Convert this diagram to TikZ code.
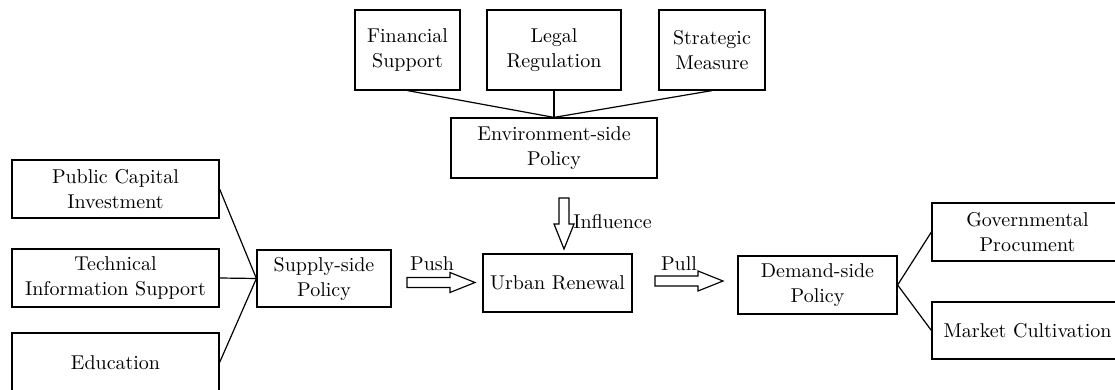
\documentclass[tikz,border=0pt]{standalone}
\begin{document}
\begin{tikzpicture}[x=0.5pt,y=-0.5pt,
  box/.style={draw,line width=0.6pt,align=center,inner sep=0pt,
    font=\fontsize{10}{12.5}\selectfont},
  link/.style={line width=0.6pt},
  lbl/.style={font=\fontsize{10}{12.5}\selectfont,inner sep=0pt},
  pics/fat/.style={code={\draw[line width=0.6pt] (0,-5) -- (#1-25,-5) -- (#1-25,-10) -- (#1,0) -- (#1-25,10) -- (#1-25,5) -- (0,5) -- cycle;}}]
\useasboundingbox (0,0) rectangle (1115,390);
\clip (0,0) rectangle (1115,390);
% top
\node[box,minimum width=52.5pt,minimum height=40pt] (fin) at (407.5,50) {Financial\\Support};
\node[box,minimum width=67pt,minimum height=40pt] (leg) at (554,50) {Legal\\Regulation};
\node[box,minimum width=53pt,minimum height=40pt] (str) at (712,50) {Strategic\\Measure};
\node[box,minimum width=103pt,minimum height=30pt] (env) at (554,148) {Environment-side\\Policy};
\draw[link] (fin.south) -- (env.north);
\draw[link] (leg.south) -- (env.north);
\draw[link] (str.south) -- (env.north);
% left
\node[box,minimum width=103.5pt,minimum height=29pt] (pci) at (115.5,189) {Public Capital\\Investment};
\node[box,minimum width=103.5pt,minimum height=29pt] (tis) at (115.5,278) {Technical\\Information Support};
\node[box,minimum width=103.5pt,minimum height=29.5pt] (edu) at (115.5,362.5) {Education};
\node[box,minimum width=67pt,minimum height=28.5pt] (sup) at (324,278.5) {Supply-side\\Policy};
\draw[link] (pci.east) -- (sup.west);
\draw[link] (tis.east) -- (sup.west);
\draw[link] (edu.east) -- (sup.west);
% centre
\node[box,minimum width=74.5pt,minimum height=29pt] (ur) at (557.5,283) {Urban Renewal};
\pic at (407,282.5) {fat=68};
\node[lbl] (push) at (432,264) {Push};
\pic[rotate=-90] at (564,198) {fat=51};
\node[lbl,anchor=west] (infl) at (573,222) {Influence};
\pic at (655,281) {fat=68};
\node[lbl] (pull) at (679,264) {Pull};
% right
\node[box,minimum width=79.5pt,minimum height=29pt] (dem) at (817.5,285) {Demand-side\\Policy};
\node[box,minimum width=95.5pt,minimum height=29pt] (gov) at (1027.5,232) {Governmental\\Procument};
\node[box,minimum width=95.5pt,minimum height=28.5pt] (mkt) at (1027.5,330.5) {Market Cultivation};
\draw[link] (dem.east) -- (gov.west);
\draw[link] (dem.east) -- (mkt.west);
\end{tikzpicture}
\end{document}
